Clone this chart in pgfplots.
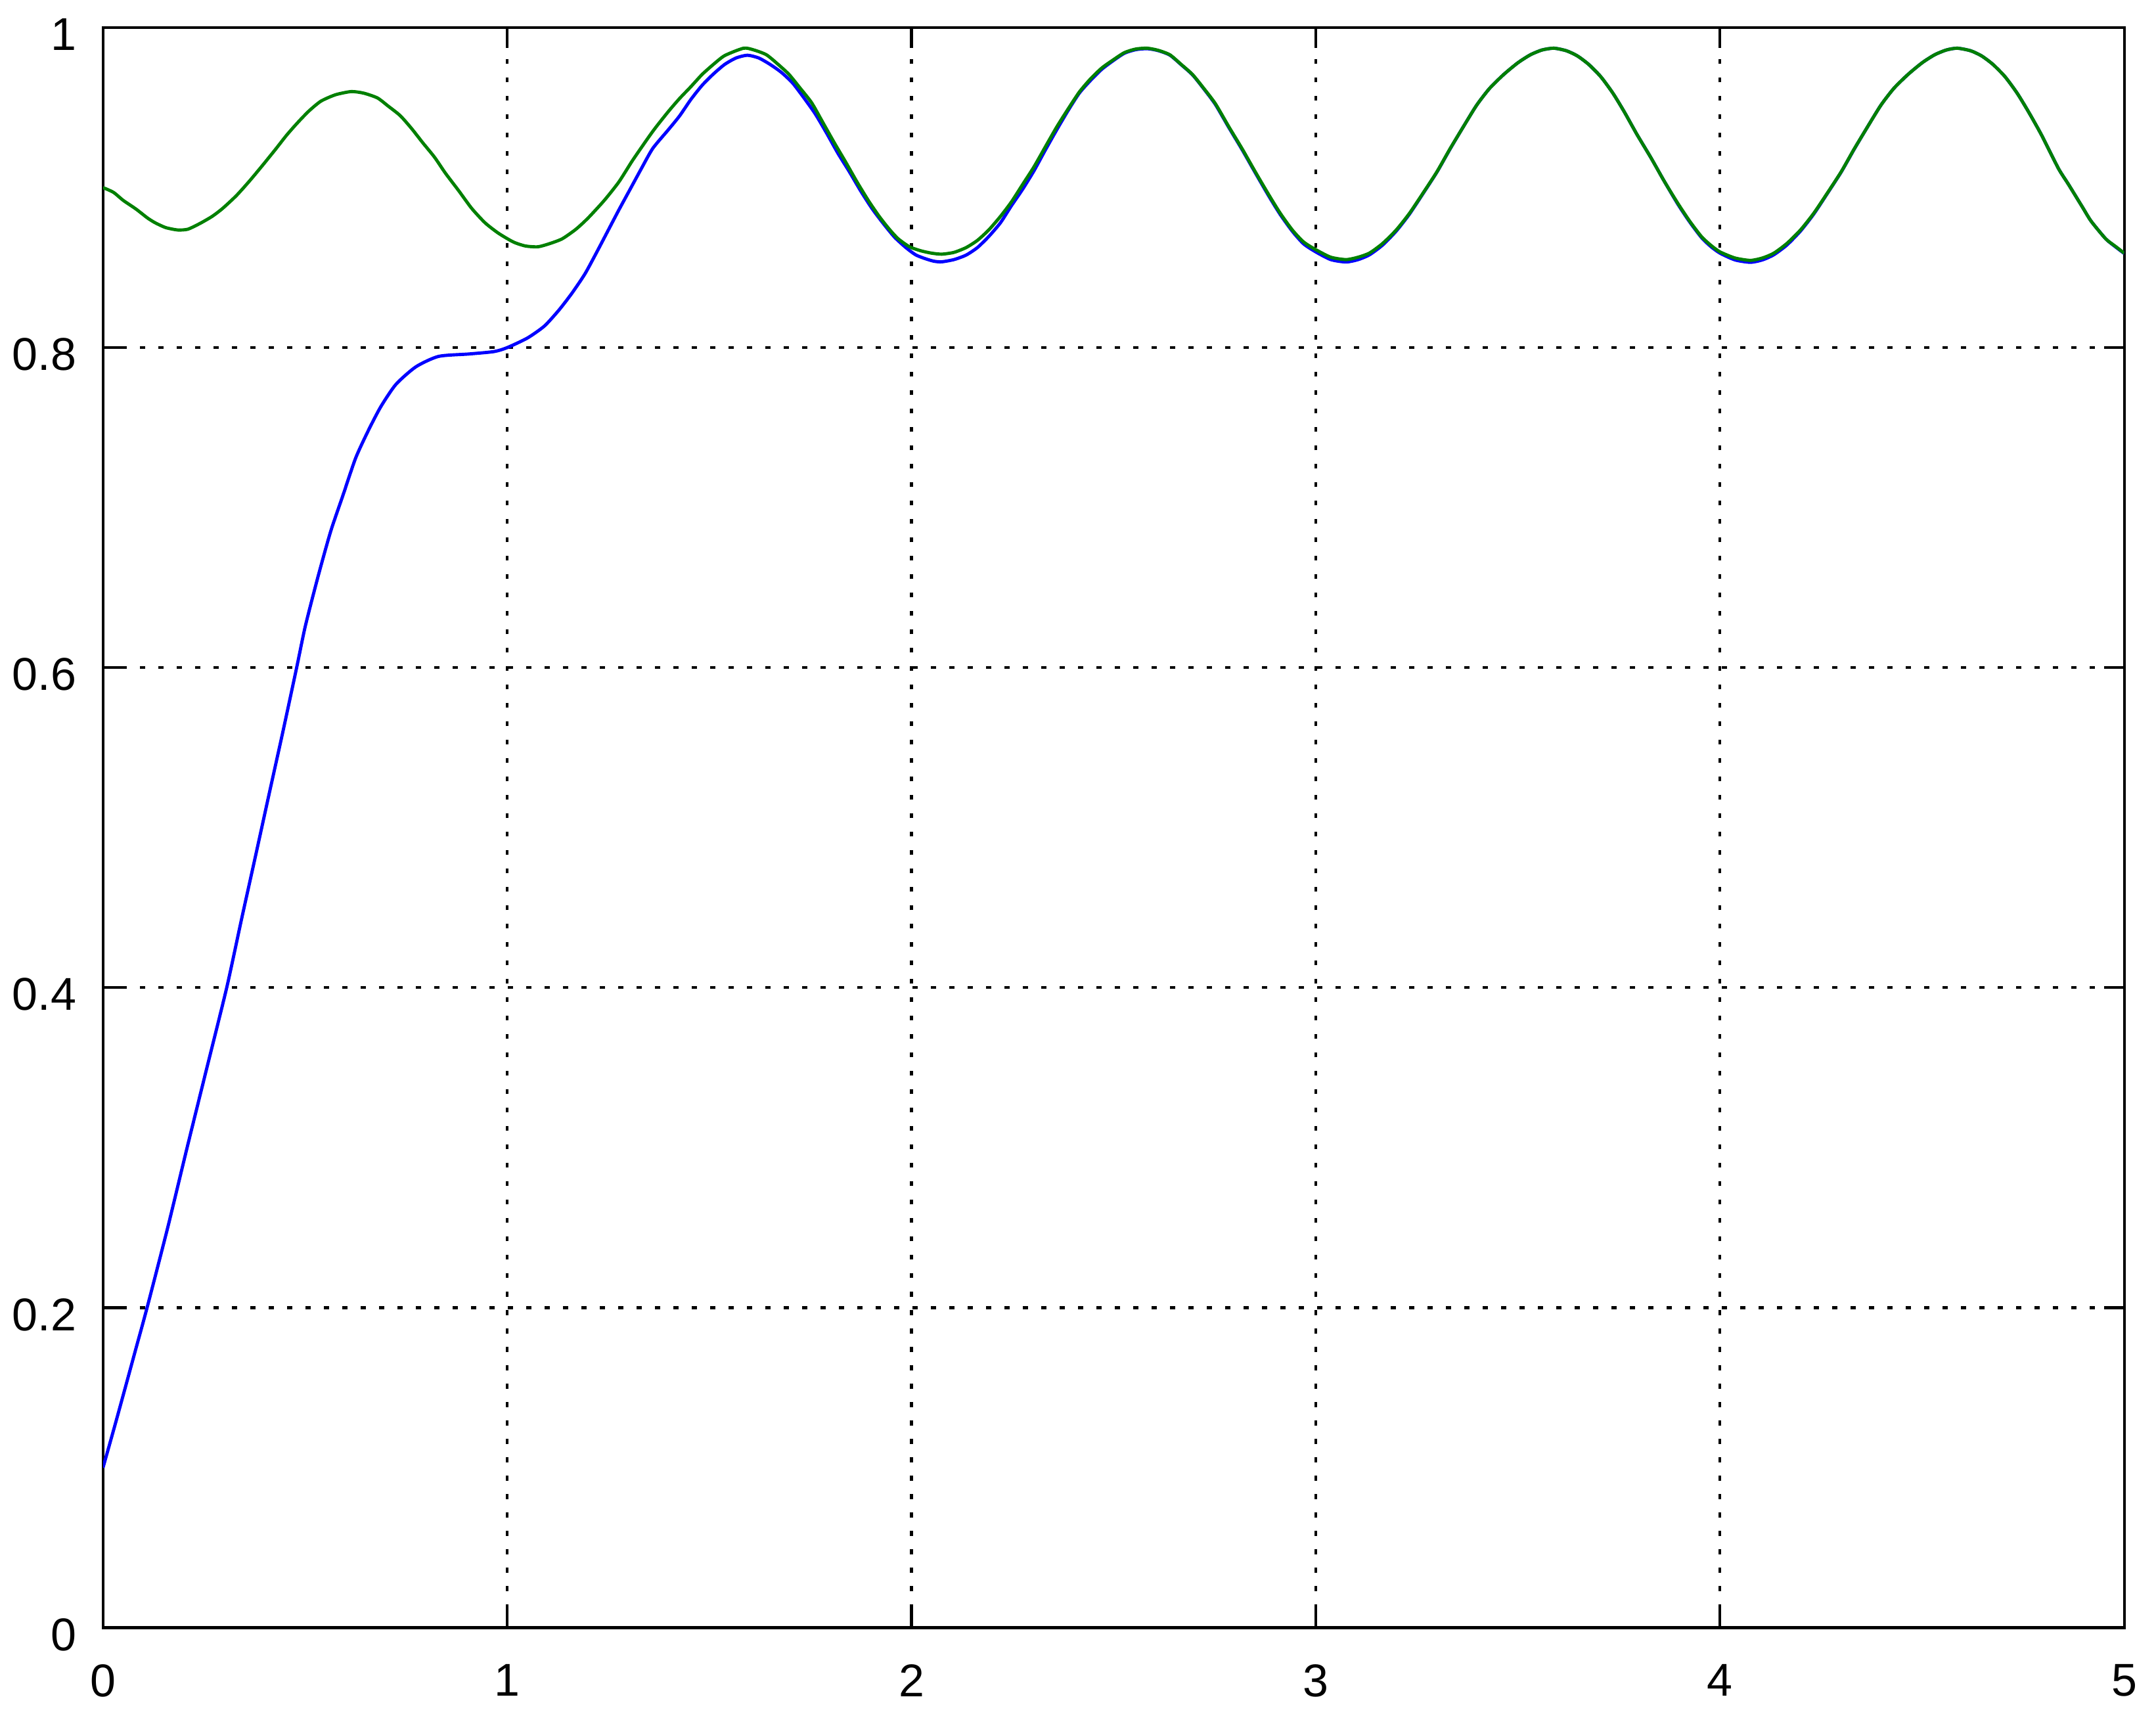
\documentclass[border=0pt]{standalone}
\usepackage{fontspec}
\setmainfont{Liberation Sans}
\usepackage{pgfplots}
\pgfplotsset{compat=1.18}

\definecolor{mblue}{RGB}{0,0,255}
\definecolor{mgreen}{RGB}{0,128,0}

\begin{document}
\begin{tikzpicture}
\begin{axis}[
    scale only axis,
    width=439.5pt,
    height=347.9pt,
    xmin=0, xmax=5,
    ymin=0, ymax=1,
    xtick={0,1,2,3,4,5},
    ytick={0,0.2,0.4,0.6,0.8,1},
    grid=major,
    major grid style={black, line width=0.6pt, dash pattern=on 1.1pt off 2.9pt},
    axis line style={black, line width=0.6pt},
    tick style={black, line width=0.6pt},
    major tick length=4.4pt,
    tick align=inside,
    /pgf/number format/assume math mode=true,
    tick label style={font=\fontsize{10}{12}\selectfont},
    xticklabel style={yshift=-4.5pt},
    yticklabel style={xshift=-2.3pt, yshift=-1.5pt},
]
\coordinate (bl) at (rel axis cs:0,0);
\coordinate (tr) at (rel axis cs:1,1);

% blue series
\addplot[mblue, line width=0.7pt, smooth, tension=0.4] coordinates {
(0,0.100) (0.03,0.127) (0.055,0.150) (0.082,0.175) (0.109,0.200)
(0.16,0.250) (0.208,0.300) (0.257,0.350) (0.306,0.400) (0.342,0.442)
(0.377,0.482) (0.41,0.520) (0.445,0.560) (0.479,0.600) (0.5005,0.626)
(0.532,0.657) (0.563,0.685) (0.594,0.708) (0.625,0.731) (0.656,0.748)
(0.687,0.763) (0.7245,0.777) (0.774,0.788) (0.83,0.7945) (0.905,0.796)
(0.967,0.7975) (1.0,0.800) (1.05,0.806) (1.092,0.8135) (1.128,0.8235)
(1.16,0.834) (1.192,0.846) (1.22,0.859) (1.248,0.8725) (1.276,0.886)
(1.304,0.899) (1.332,0.912) (1.36,0.9245) (1.398,0.936) (1.426,0.9447)
(1.454,0.955) (1.482,0.9639) (1.51,0.971) (1.538,0.977) (1.566,0.981)
(1.594,0.9827) (1.622,0.981) (1.65,0.977) (1.678,0.972) (1.706,0.9653)
(1.734,0.956) (1.762,0.946) (1.79,0.934) (1.818,0.9214) (1.846,0.910)
(1.874,0.898) (1.902,0.887) (1.93,0.8776) (1.958,0.869) (1.986,0.8625)
(2.01,0.858) (2.0325,0.8557) (2.055,0.854) (2.0745,0.8536) (2.105,0.855)
(2.135,0.8578) (2.163,0.8625) (2.191,0.8694) (2.22,0.878) (2.247,0.8886)
(2.275,0.899) (2.303,0.9105) (2.33,0.923) (2.359,0.936) (2.387,0.948)
(2.415,0.959) (2.443,0.967) (2.471,0.974) (2.5,0.9795) (2.527,0.984)
(2.555,0.9862) (2.583,0.9868) (2.61,0.9856) (2.639,0.9828) (2.667,0.9768)
(2.695,0.9705) (2.723,0.9617) (2.7515,0.952) (2.785,0.9375) (2.818,0.9236)
(2.85,0.9094) (2.884,0.8946) (2.912,0.8832) (2.942,0.8727) (2.97,0.8648)
(3.0,0.8598) (3.037,0.855) (3.075,0.8535) (3.105,0.855) (3.133,0.858)
(3.165,0.864) (3.199,0.8728) (3.232,0.8835) (3.266,0.8965) (3.3,0.9098)
(3.332,0.924) (3.365,0.938) (3.398,0.9515) (3.43,0.962) (3.465,0.9707)
(3.5,0.978) (3.531,0.983) (3.56,0.986) (3.589,0.9871) (3.62,0.9855)
(3.647,0.9823) (3.675,0.977) (3.705,0.9693) (3.735,0.959) (3.763,0.9474)
(3.795,0.933) (3.829,0.9187) (3.862,0.904) (3.896,0.8895) (3.925,0.8785)
(3.954,0.8688) (3.977,0.8632) (4.0,0.859) (4.037,0.8548) (4.075,0.8533)
(4.105,0.8548) (4.133,0.858) (4.165,0.864) (4.199,0.8728) (4.232,0.8835)
(4.266,0.8965) (4.3,0.9098) (4.332,0.924) (4.365,0.938) (4.398,0.9515)
(4.43,0.962) (4.465,0.9707) (4.5,0.978) (4.531,0.983) (4.56,0.986)
(4.587,0.9871) (4.62,0.9855) (4.647,0.9823) (4.675,0.977) (4.705,0.9693)
(4.735,0.959) (4.763,0.9474) (4.795,0.933) (4.837,0.912) (4.862,0.902)
(4.896,0.888) (4.918,0.879) (4.954,0.868) (4.977,0.8632) (5.0,0.8588)
};

% green series
\addplot[mgreen, line width=0.7pt, smooth, tension=0.4] coordinates {
(0,0.900) (0.026,0.897) (0.05,0.892) (0.082,0.8865) (0.11,0.881)
(0.129,0.878) (0.155,0.875) (0.185,0.8735) (0.21,0.874) (0.24,0.8776)
(0.27,0.882) (0.296,0.887) (0.33,0.895) (0.362,0.904) (0.395,0.914)
(0.427,0.924) (0.455,0.933) (0.483,0.941) (0.51,0.948) (0.539,0.954)
(0.575,0.958) (0.614,0.960) (0.645,0.959) (0.679,0.956) (0.705,0.951)
(0.735,0.945) (0.763,0.937) (0.791,0.928) (0.82,0.919) (0.847,0.909)
(0.88,0.898) (0.912,0.887) (0.945,0.878) (0.978,0.8715) (1.015,0.866)
(1.045,0.8635) (1.076,0.863) (1.105,0.865) (1.136,0.868) (1.17,0.874)
(1.2,0.881) (1.24,0.892) (1.276,0.9035) (1.31,0.917) (1.351,0.932)
(1.37,0.9385) (1.4,0.948) (1.426,0.9556) (1.454,0.963) (1.482,0.9707)
(1.51,0.977) (1.538,0.9825) (1.5846,0.9871) (1.61,0.986) (1.641,0.983)
(1.67,0.977) (1.697,0.9707) (1.725,0.962) (1.753,0.953) (1.78,0.941)
(1.809,0.928) (1.837,0.916) (1.865,0.9036) (1.893,0.892) (1.92,0.882)
(1.945,0.874) (1.967,0.868) (1.995,0.863) (2.023,0.8605) (2.05,0.859)
(2.075,0.8584) (2.105,0.8595) (2.135,0.8625) (2.163,0.867) (2.191,0.8735)
(2.22,0.882) (2.247,0.891) (2.275,0.902) (2.303,0.913) (2.33,0.925)
(2.359,0.9378) (2.387,0.949) (2.415,0.9597) (2.443,0.968) (2.471,0.9748)
(2.5,0.980) (2.527,0.9844) (2.555,0.9866) (2.583,0.9871) (2.61,0.9858)
(2.639,0.983) (2.667,0.977) (2.695,0.9707) (2.723,0.962) (2.7515,0.9525)
(2.785,0.938) (2.818,0.9242) (2.85,0.910) (2.884,0.8954) (2.912,0.884)
(2.942,0.8735) (2.97,0.866) (3.0,0.8612) (3.037,0.8565) (3.075,0.855)
(3.105,0.8565) (3.133,0.8591) (3.165,0.865) (3.199,0.8735) (3.232,0.884)
(3.266,0.8968) (3.3,0.910) (3.332,0.9242) (3.365,0.938) (3.398,0.9515)
(3.43,0.962) (3.465,0.9707) (3.5,0.978) (3.531,0.983) (3.56,0.986)
(3.589,0.9871) (3.62,0.9855) (3.647,0.9823) (3.675,0.977) (3.705,0.9693)
(3.735,0.959) (3.763,0.9474) (3.795,0.933) (3.829,0.9187) (3.862,0.904)
(3.896,0.890) (3.925,0.879) (3.954,0.8694) (3.977,0.864) (4.0,0.8598)
(4.037,0.856) (4.075,0.8545) (4.105,0.856) (4.133,0.859) (4.165,0.865)
(4.199,0.8735) (4.232,0.884) (4.266,0.8968) (4.3,0.910) (4.332,0.9242)
(4.365,0.938) (4.398,0.9515) (4.43,0.962) (4.465,0.9707) (4.5,0.978)
(4.531,0.983) (4.56,0.986) (4.587,0.9871) (4.62,0.9855) (4.647,0.9823)
(4.675,0.977) (4.705,0.9693) (4.735,0.959) (4.763,0.9474) (4.795,0.933)
(4.837,0.912) (4.862,0.902) (4.896,0.888) (4.918,0.879) (4.954,0.868)
(4.977,0.8635) (5.0,0.859)
};
\end{axis}
\pgfresetboundingbox
\path ([shift={(-22.4pt,-19.6pt)}]bl) rectangle ([shift={(6.9pt,6pt)}]tr);
\end{tikzpicture}
\end{document}
